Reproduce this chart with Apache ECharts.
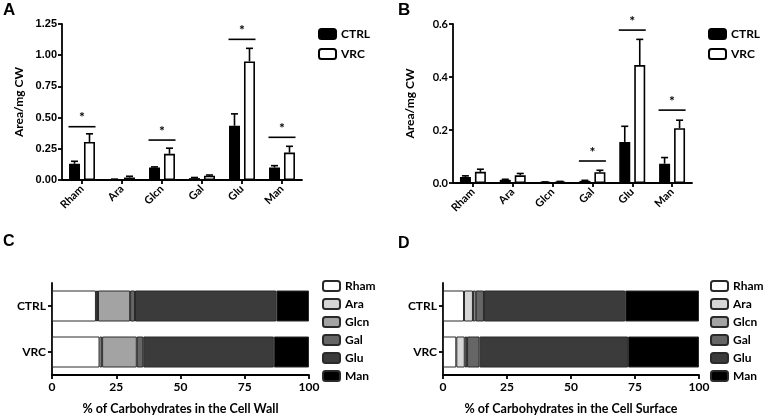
<!DOCTYPE html>
<html>
<head>
<meta charset="utf-8">
<script src="https://cdn.jsdelivr.net/npm/echarts@6/dist/echarts.min.js"></script>
<style>
  html, body { margin: 0; padding: 0; background: #fff; }
  #chart { width: 769px; height: 418px; }
</style>
</head>
<body>
<div id="chart"></div>
<script>
// sugars and groups
const sugars = ['Rham', 'Ara', 'Glcn', 'Gal', 'Glu', 'Man']
const groups = ['CTRL', 'VRC']

// A: cell wall, area/mg CW (mean and top of error bar)
const wallCtrl = [0.13, 0.005, 0.10, 0.015, 0.435, 0.10]
const wallCtrlErr = [0.15, 0.007, 0.105, 0.02, 0.53, 0.115]
const wallVrc = [0.305, 0.02, 0.21, 0.035, 0.95, 0.22]
const wallVrcErr = [0.37, 0.03, 0.255, 0.04, 1.055, 0.27]
const wallSig = [[0, 0.427], [2, 0.32], [4, 1.127], [5, 0.342]]
const wallTicks = [0, 1.25, 0.25]

// B: cell surface
const surfCtrl = [0.023, 0.012, 0.003, 0.008, 0.155, 0.073]
const surfCtrlErr = [0.027, 0.014, 0.004, 0.01, 0.214, 0.096]
const surfVrc = [0.042, 0.029, 0.005, 0.041, 0.445, 0.207]
const surfVrcErr = [0.052, 0.036, 0.006, 0.048, 0.542, 0.237]
const surfSig = [[3, 0.083], [4, 0.577], [5, 0.275]]
const surfTicks = [0, 0.6, 0.2]

// C / D: % of carbohydrates, in sugar order
const wallPctCtrl = [17.1, 0.8, 12.5, 1.9, 55.0, 12.7]
const wallPctVrc = [18.5, 1.0, 13.5, 2.5, 50.8, 13.7]
const surfPctCtrl = [8.2, 3.5, 1.1, 3.2, 55.2, 28.8]
const surfPctVrc = [5.2, 3.3, 0.9, 4.9, 58.0, 27.7]
const pctTicks = [0, 100, 25]

const sugarColors = ['#ffffff', '#d6d6d6', '#a3a3a3', '#666666', '#3b3b3b', '#000000']

const FONT = 'Lato'
const BAR_W = 11
const BAR_OFF = 7.5

const bold = (size, family) => ({ fontFamily: family || FONT, fontWeight: 'bold', fontSize: size, color: '#000' })
const axisLine = { show: true, lineStyle: { color: '#000', width: 1.8 } }
const axisTick = { show: true, length: 4, lineStyle: { color: '#000', width: 1.8 } }

const errorBar = offset => (params, api) => {
  const i = api.value(0)
  const base = api.coord([i, api.value(1)])
  const top = api.coord([i, api.value(2)])
  const x = top[0] + offset
  const st = { stroke: '#000', lineWidth: 1.6 }
  return {
    type: 'group',
    children: [
      { type: 'line', shape: { x1: x, y1: base[1], x2: x, y2: top[1] }, style: st },
      { type: 'line', shape: { x1: x - 3.5, y1: top[1], x2: x + 3.5, y2: top[1] }, style: st }
    ]
  }
}

const sigMark = (params, api) => {
  const p = api.coord([api.value(0), api.value(1)])
  return {
    type: 'group',
    children: [
      { type: 'line', shape: { x1: p[0] - 13.5, y1: p[1], x2: p[0] + 13.5, y2: p[1] }, style: { stroke: '#000', lineWidth: 1.6 } },
      { type: 'text', x: p[0], y: p[1] - 2, style: { text: '*', fill: '#000', font: 'bold 14px ' + FONT, align: 'center', verticalAlign: 'bottom' } }
    ]
  }
}

const barPanel = (idx, ctrl, ctrlErr, vrc, vrcErr, sig) => [
  {
    name: 'CTRL', type: 'bar', xAxisIndex: idx, yAxisIndex: idx, barWidth: BAR_W, barGap: '36%',
    itemStyle: { color: '#000', borderColor: '#000', borderWidth: 1.6 }, data: ctrl
  },
  {
    name: 'VRC', type: 'bar', xAxisIndex: idx, yAxisIndex: idx, barWidth: BAR_W, barGap: '36%',
    itemStyle: { color: '#fff', borderColor: '#000', borderWidth: 1.6 }, data: vrc
  },
  {
    type: 'custom', xAxisIndex: idx, yAxisIndex: idx, z: 3, renderItem: errorBar(-BAR_OFF),
    data: ctrl.map((v, i) => [i, v, ctrlErr[i]])
  },
  {
    type: 'custom', xAxisIndex: idx, yAxisIndex: idx, z: 3, renderItem: errorBar(BAR_OFF),
    data: vrc.map((v, i) => [i, v, vrcErr[i]])
  },
  { type: 'custom', xAxisIndex: idx, yAxisIndex: idx, z: 3, renderItem: sigMark, data: sig }
]

const stackPanel = (idx, ctrl, vrc) => sugars.map((s, i) => ({
  name: s, type: 'bar', stack: 'p' + idx, xAxisIndex: idx, yAxisIndex: idx, barWidth: 31,
  itemStyle: { color: sugarColors[i], borderColor: '#2a2a2a', borderWidth: 1 },
  data: [ctrl[i], vrc[i]]
}))

const catX = idx => ({
  type: 'category', gridIndex: idx, data: sugars,
  axisLine, axisTick: { ...axisTick, alignWithLabel: true },
  axisLabel: { ...bold(11), rotate: 45, interval: 0, margin: 7 }
})

const valY = (idx, t, digits, family) => ({
  type: 'value', gridIndex: idx, min: t[0], max: t[1], interval: t[2],
  name: 'Area/mg CW', nameLocation: 'middle', nameGap: 37, nameRotate: 90, nameTextStyle: bold(12),
  axisLine, axisTick, splitLine: { show: false },
  axisLabel: { ...bold(11, family), margin: 5, formatter: v => v.toFixed(digits) }
})

const pctX = (idx, title) => ({
  type: 'value', gridIndex: idx, min: pctTicks[0], max: pctTicks[1], interval: pctTicks[2],
  name: title, nameLocation: 'middle', nameGap: 27, nameTextStyle: bold(12.5),
  axisLine, axisTick, splitLine: { show: false },
  axisLabel: { ...bold(12), margin: 6 }
})

const grpY = idx => ({
  type: 'category', gridIndex: idx, data: groups, inverse: true,
  axisLine, axisTick: { ...axisTick, alignWithLabel: true },
  axisLabel: { ...bold(12), margin: 6 }
})

const legend = (left, top, data, gap) => ({
  orient: 'vertical', left, top, data, padding: 0, itemWidth: 17, itemHeight: 10, itemGap: gap,
  textStyle: bold(12), selectedMode: false
})

const panelLetter = (text, left, top, size) => ({
  type: 'text', left, top, style: { text, font: 'bold ' + size + 'px "Liberation Sans"', fill: '#000' }
})

const chart = echarts.init(document.getElementById('chart'))
chart.setOption({
  animation: false,
  backgroundColor: '#fff',
  grid: [
    { left: 62, top: 24, width: 240, height: 156 },
    { left: 453, top: 24, width: 239, height: 159 },
    { left: 52, top: 283, width: 257, height: 92 },
    { left: 443, top: 283, width: 256, height: 92 }
  ],
  xAxis: [
    catX(0), catX(1),
    pctX(2, '% of Carbohydrates in the Cell Wall'),
    pctX(3, '% of Carbohydrates in the Cell Surface')
  ],
  yAxis: [
    valY(0, wallTicks, 2, 'Liberation Sans'),
    valY(1, surfTicks, 1),
    grpY(2), grpY(3)
  ],
  legend: [
    legend(318, 28, groups, 8),
    legend(708, 28, groups, 8),
    legend(322, 280, sugars, 6),
    legend(710, 280, sugars, 6)
  ],
  graphic: [
    panelLetter('A', 3, 2, 17),
    panelLetter('B', 398, 2, 17),
    panelLetter('C', 3, 234, 16),
    panelLetter('D', 398, 236, 16)
  ],
  series: [
    ...barPanel(0, wallCtrl, wallCtrlErr, wallVrc, wallVrcErr, wallSig),
    ...barPanel(1, surfCtrl, surfCtrlErr, surfVrc, surfVrcErr, surfSig),
    ...stackPanel(2, wallPctCtrl, wallPctVrc),
    ...stackPanel(3, surfPctCtrl, surfPctVrc)
  ]
})
</script>
</body>
</html>
